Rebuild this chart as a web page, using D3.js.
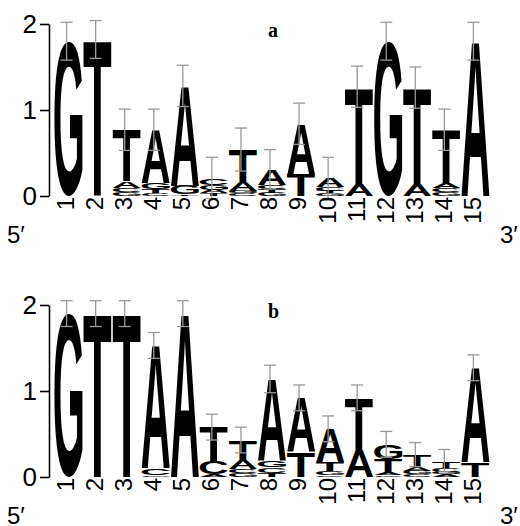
<!DOCTYPE html>
<html>
<head>
<meta charset="utf-8">
<script src="https://cdn.jsdelivr.net/npm/d3@7"></script>
<style>body{margin:0;background:#fff}</style>
</head>
<body>
<div id="chart"></div>
<script>
const positions = d3.range(1, 16);
const bases = ["A", "C", "G", "T"];

// panel a: letter heights (bits) per position
const aA = [0, 0, 0.08, 0.62, 1.16, 0.04, 0.10, 0.18, 0.59, 0.10, 0.13, 0, 0.13, 0.06, 1.80];
const aC = [0, 0, 0.05, 0.03, 0, 0.08, 0.03, 0.05, 0, 0.04, 0, 0, 0, 0.05, 0];
const aG = [1.80, 0, 0.04, 0.07, 0.10, 0.06, 0.03, 0.04, 0, 0.03, 0, 1.80, 0, 0.04, 0];
const aT = [0, 1.82, 0.60, 0.05, 0.02, 0.03, 0.38, 0.04, 0.25, 0.03, 1.14, 0, 1.13, 0.62, 0];
const aErr = [0.22, 0.22, 0.24, 0.24, 0.24, 0.24, 0.25, 0.23, 0.24, 0.25, 0.24, 0.22, 0.24, 0.24, 0.22];

// panel b
const bA = [0, 0, 0, 1.43, 1.90, 0.03, 0.10, 0.95, 0.63, 0.39, 0.31, 0.03, 0.05, 0.03, 1.10];
const bC = [0, 0, 0, 0.08, 0, 0.15, 0.05, 0.06, 0, 0.02, 0, 0.02, 0.03, 0.05, 0];
const bG = [1.90, 0, 0, 0.02, 0, 0, 0.04, 0.08, 0, 0.05, 0, 0.17, 0.04, 0.03, 0];
const bT = [0, 1.90, 1.90, 0, 0, 0.40, 0.24, 0.05, 0.29, 0.10, 0.61, 0.16, 0.14, 0.08, 0.17];
const bErr = [0.15, 0.15, 0.15, 0.15, 0.15, 0.15, 0.15, 0.16, 0.15, 0.15, 0.15, 0.15, 0.14, 0.13, 0.15];

const yTicks = [0, 1, 2];

const width = 520, height = 526;
const svg = d3.select("#chart").append("svg")
    .attr("width", width)
    .attr("height", height);

const x = d3.scaleBand().domain(positions).range([54.5, 489.5]).paddingInner(0.03);

// ink box of each glyph, so letters can be stretched to fill their cell
const glyphFamily = "'Liberation Sans', Arial, sans-serif";
const ctx = document.createElement("canvas").getContext("2d");
ctx.font = "bold 100px " + glyphFamily;
const ink = {};
bases.forEach(b => {
  const m = ctx.measureText(b);
  ink[b] = {l: m.actualBoundingBoxLeft, r: m.actualBoundingBoxRight,
            a: m.actualBoundingBoxAscent, d: m.actualBoundingBoxDescent};
});

function drawPanel(top, cols, err, label) {
  const g = svg.append("g").attr("transform", `translate(0,${top})`);
  const y = d3.scaleLinear().domain([0, 2]).range([196, 24]);

  const stacks = positions.map((p, i) => {
    const letters = bases.map((b, k) => ({b: b, v: cols[k][i], pos: p}))
      .filter(d => d.v > 0)
      .sort((p1, p2) => p1.v - p2.v);
    let acc = 0;
    letters.forEach(d => { d.y0 = acc; acc += d.v; d.y1 = acc; });
    return {pos: p, letters: letters, total: acc, err: err[i]};
  });

  // letters
  const allLetters = [];
  stacks.forEach(s => s.letters.forEach(l => allLetters.push(l)));

  g.selectAll(".glyph")
    .data(allLetters)
    .enter().append("text")
    .attr("class", "glyph")
    .attr("font-family", glyphFamily)
    .attr("font-weight", "bold")
    .attr("font-size", 100)
    .attr("fill", "#000")
    .attr("transform", d => {
      const m = ink[d.b];
      const w = x.bandwidth();
      const h = y(d.y0) - y(d.y1);
      return `translate(${x(d.pos)},${y(d.y1)}) scale(${w / (m.l + m.r)},${h / (m.a + m.d)}) translate(${m.l},${m.a})`;
    })
    .text(d => d.b);

  // error bars
  const eb = g.selectAll(".err")
    .data(stacks)
    .enter().append("g")
    .attr("class", "err")
    .attr("stroke", "#9a9a9a")
    .attr("stroke-width", 1.3)
    .attr("transform", d => `translate(${x(d.pos) + x.bandwidth() / 2 - 2},0)`);
  eb.append("line")
    .attr("y1", d => y(d.total + d.err))
    .attr("y2", d => y(d.total - d.err));
  eb.append("line")
    .attr("x1", -6).attr("x2", 6)
    .attr("y1", d => y(d.total + d.err))
    .attr("y2", d => y(d.total + d.err));
  eb.append("line")
    .attr("x1", -6).attr("x2", 6)
    .attr("y1", d => y(d.total - d.err))
    .attr("y2", d => y(d.total - d.err));

  // y axis
  g.append("g")
    .attr("transform", "translate(49,0)")
    .call(d3.axisLeft(y).tickValues(yTicks).tickFormat(d3.format("d"))
      .tickSize(9).tickSizeOuter(0).tickPadding(3))
    .call(a => a.selectAll("text")
      .attr("font-size", 26)
      .attr("font-family", "'Liberation Sans', Arial, sans-serif")
      .attr("fill", "#000"))
    .call(a => a.selectAll("line,path").attr("stroke", "#000").attr("stroke-width", 1.6));

  // position numbers
  g.selectAll(".pos")
    .data(positions)
    .enter().append("text")
    .attr("class", "pos")
    .attr("transform", d => `translate(${x(d) + x.bandwidth() / 2 - 3},197) rotate(-90)`)
    .attr("dy", "0.35em")
    .attr("text-anchor", "end")
    .attr("font-size", 24)
    .attr("font-family", "'Liberation Sans', Arial, sans-serif")
    .text(d => d);

  g.append("text")
    .attr("x", 7).attr("y", 243)
    .attr("font-size", 24)
    .attr("font-family", "'Liberation Sans', Arial, sans-serif")
    .text("5\u2032");
  g.append("text")
    .attr("x", 500).attr("y", 243)
    .attr("font-size", 24)
    .attr("font-family", "'Liberation Sans', Arial, sans-serif")
    .text("3\u2032");

  g.append("text")
    .attr("x", 268).attr("y", 37)
    .attr("font-size", 20)
    .attr("font-weight", "bold")
    .attr("font-family", "'Liberation Serif', 'Times New Roman', serif")
    .text(label);
}

drawPanel(0, [aA, aC, aG, aT], aErr, "a");
drawPanel(281, [bA, bC, bG, bT], bErr, "b");
</script>
</body>
</html>
